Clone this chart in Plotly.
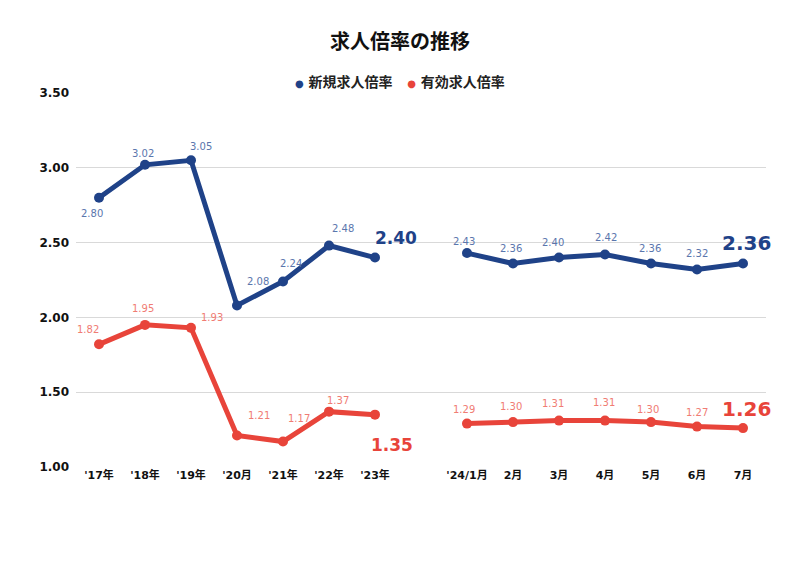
import plotly.graph_objects as go

categories = ["'17年", "'18年", "'19年", "'20月", "'21年", "'22年", "'23年", " ",
              "'24/1月", "2月", "3月", "4月", "5月", "6月", "7月"]
new_ratio = [2.80, 3.02, 3.05, 2.08, 2.24, 2.48, 2.40, None,
             2.43, 2.36, 2.40, 2.42, 2.36, 2.32, 2.36]
active_ratio = [1.82, 1.95, 1.93, 1.21, 1.17, 1.37, 1.35, None,
                1.29, 1.30, 1.31, 1.31, 1.30, 1.27, 1.26]
series_names = ["新規求人倍率", "有効求人倍率"]

BLUE = "#1f4288"
RED = "#e8443a"
BLUE_LBL = "#5a76ad"
RED_LBL = "#f07c74"
FONT = "DejaVu Sans, Noto Sans CJK JP, sans-serif"

# label offsets in screen pixels (dx, dy) -- dy positive = down
new_off = [(-7, 16), (-2, -11), (10, -14), (21, -24), (8, -18), (14, -17), (21, -20), None,
           (-3, -12), (-2, -15), (-6, -15), (1, -17), (-1, -15), (0, -16), (3, -21)]
act_off = [(-11, -15), (-2, -16), (21, -10), (22, -20), (16, -23), (9, -11), (17, 30), None,
           (-3, -14), (-2, -16), (-6, -17), (-1, -18), (-3, -13), (0, -14), (3, -19)]
big_size = {6: 17, 14: 20}  # highlighted (latest) values

fig = go.Figure()
for name, vals, col in [(series_names[0], new_ratio, BLUE), (series_names[1], active_ratio, RED)]:
    fig.add_trace(go.Scatter(x=categories, y=vals, name=name, mode="lines+markers",
                             line=dict(color=col, width=5), marker=dict(color=col, size=10),
                             connectgaps=False, showlegend=False))

annotations = []
for vals, offs, col, lcol in [(new_ratio, new_off, BLUE, BLUE_LBL), (active_ratio, act_off, RED, RED_LBL)]:
    for i, (c, v) in enumerate(zip(categories, vals)):
        if v is None:
            continue
        dx, dy = offs[i]
        big = i in big_size
        annotations.append(dict(
            x=c, y=v, xref="x", yref="y", text=f"{v:.2f}", showarrow=False,
            xshift=dx, yshift=-dy,
            font=dict(family=FONT, size=big_size.get(i, 10), color=col if big else lcol,
                      weight="bold" if big else "normal")))

# compact legend, dot + label
legend_txt = (f"<span style='font-size:10px;color:{BLUE}'>●</span> {series_names[0]}"
              f"&nbsp;&nbsp;&nbsp;<span style='font-size:10px;color:{RED}'>●</span> {series_names[1]}")
annotations.append(dict(x=0.4696, y=1.029, xref="paper", yref="paper", xanchor="center",
                        yanchor="middle", showarrow=False, text=legend_txt,
                        font=dict(family=FONT, size=14, color="#222222", weight="bold")))

fig.update_layout(
    width=800, height=579,
    paper_bgcolor="white", plot_bgcolor="white",
    margin=dict(l=68, r=42, t=85, b=120),
    title=dict(text="求人倍率の推移", x=0.49, xanchor="center", y=1 - 34 / 579, yanchor="middle",
               font=dict(family=FONT, size=20, color="#111111", weight="bold")),
    showlegend=False,
    annotations=annotations,
)
fig.update_xaxes(type="category", categoryorder="array", categoryarray=categories,
                 range=[-0.5, 14.5], showgrid=False, showline=False, ticks="",
                 tickfont=dict(family=FONT, size=11, color="#111111", weight="bold"))
fig.update_yaxes(range=[1.0, 3.5], dtick=0.5, tickformat=".2f", showgrid=True,
                 gridcolor="#d9d9d9", gridwidth=1, zeroline=False, showline=False, ticks="",
                 ticklabelstandoff=6,
                 tickfont=dict(family=FONT, size=12, color="#111111", weight="bold"))

fig.write_html("out.html")
